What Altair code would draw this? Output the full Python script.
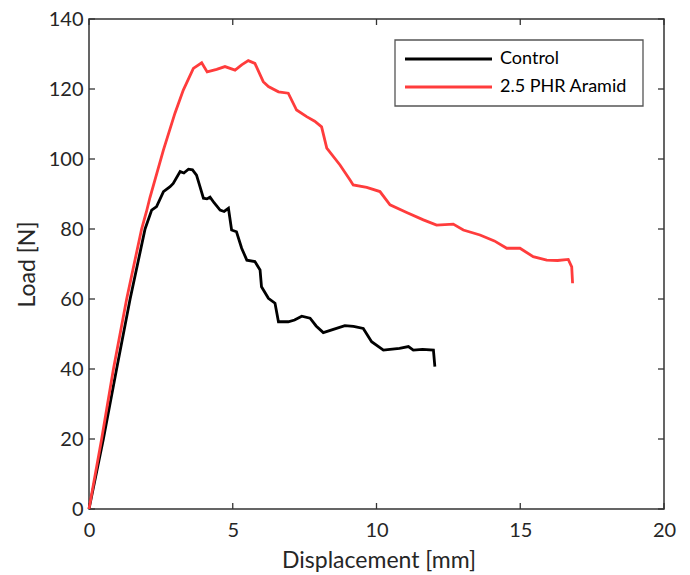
import altair as alt
import pandas as pd

# Control curve
ctrl_x = [0, 0.5, 0.96, 1.43, 1.95, 2.18, 2.35, 2.59, 2.82, 2.93, 3.17, 3.3, 3.46, 3.6, 3.74, 3.86,
          3.98, 4.1, 4.21, 4.35, 4.56, 4.7, 4.85, 4.96, 5.13, 5.31, 5.49, 5.77, 5.95, 6.0, 6.24,
          6.47, 6.59, 6.93, 7.15, 7.4, 7.69, 7.9, 8.15, 8.5, 8.9, 9.2, 9.54, 9.83, 10.24, 10.47,
          10.8, 11.11, 11.28, 11.6, 11.98, 12.03]
ctrl_y = [0, 20, 40, 60, 80, 85.4, 86.4, 90.7, 92.1, 93.0, 96.4, 96.0, 97.1, 96.9, 95.4, 92.1,
          88.8, 88.6, 89.1, 87.5, 85.4, 85.0, 85.9, 79.7, 79.2, 74.5, 71.1, 70.7, 68.3, 63.5, 60.2,
          58.8, 53.5, 53.5, 54.0, 55.1, 54.5, 52.3, 50.4, 51.3, 52.4, 52.2, 51.6, 47.8, 45.4, 45.6,
          45.9, 46.4, 45.4, 45.6, 45.4, 40.7]

# 2.5 PHR Aramid curve
ara_x = [0, 0.44, 0.85, 1.31, 1.83, 2.0, 2.12, 2.59, 2.99, 3.28, 3.63, 3.92, 4.11, 4.44, 4.73, 5.08, 5.31,
         5.54, 5.77, 6.06, 6.24, 6.59, 6.93, 7.22, 7.57, 7.85, 8.09, 8.27, 8.73, 9.08, 9.19, 9.66,
         10.12, 10.47, 11.05, 11.63, 12.09, 12.67, 13.02, 13.6, 14.1, 14.53, 14.99, 15.45, 15.92,
         16.3, 16.67, 16.79, 16.82]
ara_y = [0, 20, 40, 60, 80, 85, 89, 102.6, 113.1, 119.7, 125.9, 127.5, 124.9, 125.6, 126.4, 125.4,
         126.9, 128.1, 127.3, 122.1, 120.7, 119.2, 118.8, 114.0, 112.1, 110.8, 109.2, 103.1, 98.3, 94.0,
         92.6, 91.9, 90.7, 86.9, 84.7, 82.6, 81.1, 81.4, 79.7, 78.3, 76.6, 74.5, 74.5, 72.1, 71.1,
         71.0, 71.3, 69.2, 64.5]

series_names = ["Control", "2.5 PHR Aramid"]
series_colors = ["#000000", "#FF3C3C"]

x_ticks = [0, 5, 10, 15, 20]
y_ticks = [0, 20, 40, 60, 80, 100, 120, 140]

W, H = 575, 490
FONT = "Lato"
TXT = "#262626"

df_c = pd.DataFrame({"x": ctrl_x, "y": ctrl_y, "s": series_names[0], "o": range(len(ctrl_x))})
df_a = pd.DataFrame({"x": ara_x, "y": ara_y, "s": series_names[1], "o": range(len(ara_x))})

color = alt.Color("s:N", scale=alt.Scale(domain=series_names, range=series_colors), legend=None)

xs = alt.Scale(domain=[0, 20], nice=False, zero=False)
ys = alt.Scale(domain=[0, 140], nice=False, zero=False)

xaxis = alt.Axis(values=x_ticks, ticks=False, domain=False, grid=False, labelFontSize=20,
                 labelFont=FONT, labelColor=TXT, labelPadding=11, title="Displacement [mm]",
                 titleFontSize=23, titleFont=FONT, titleColor=TXT, titleFontWeight="normal",
                 titleX=W / 2 + 2, titleY=51, titleBaseline="middle", titleAlign="center",
                 labelFlush=False)
yaxis = alt.Axis(values=y_ticks, ticks=False, domain=False, grid=False, labelFontSize=20,
                 labelFont=FONT, labelColor=TXT, labelPadding=6, title="Load [N]",
                 titleFontSize=23, titleFont=FONT, titleColor=TXT, titleFontWeight="normal",
                 titleX=-62, titleY=H / 2, titleBaseline="middle", titleAlign="center",
                 labelFlush=False)

line_c = alt.Chart(df_c).mark_line(strokeWidth=2.8).encode(
    x=alt.X("x:Q", scale=xs, axis=xaxis), y=alt.Y("y:Q", scale=ys, axis=yaxis),
    color=color, order="o:Q")
line_a = alt.Chart(df_a).mark_line(strokeWidth=2.8).encode(
    x=alt.X("x:Q", scale=xs), y=alt.Y("y:Q", scale=ys), color=color, order="o:Q")

tx = pd.DataFrame({"t": x_ticks})
ty = pd.DataFrame({"t": y_ticks})
tick_style = dict(color="#333333", strokeWidth=1.3)
tb = alt.Chart(tx).mark_rule(**tick_style).encode(x=alt.X("t:Q", scale=xs), y=alt.value(H), y2=alt.value(H - 6))
tt = alt.Chart(tx).mark_rule(**tick_style).encode(x=alt.X("t:Q", scale=xs), y=alt.value(0), y2=alt.value(6))
tl = alt.Chart(ty).mark_rule(**tick_style).encode(y=alt.Y("t:Q", scale=ys), x=alt.value(0), x2=alt.value(6))
tr = alt.Chart(ty).mark_rule(**tick_style).encode(y=alt.Y("t:Q", scale=ys), x=alt.value(W), x2=alt.value(W - 6))

# Manual legend
leg_df = pd.DataFrame({"s": series_names})
box = alt.Chart(leg_df.head(1)).mark_rect(fill="white", stroke="#555555", strokeWidth=1.3).encode(
    x=alt.value(306), x2=alt.value(554), y=alt.value(21), y2=alt.value(87))
rows = []
for i, name in enumerate(series_names):
    yy = 40 + 28 * i
    d = leg_df[leg_df.s == name]
    rows.append(alt.Chart(d).mark_rule(strokeWidth=3).encode(
        x=alt.value(316), x2=alt.value(403), y=alt.value(yy), color=color))
    rows.append(alt.Chart(d).mark_text(align="left", baseline="middle", font=FONT, fontSize=18,
                                       color="#000000").encode(
        x=alt.value(411), y=alt.value(yy), text="s:N"))

chart = alt.layer(tb, tt, tl, tr, line_c, line_a, box, *rows).properties(
    width=W, height=H,
    padding={"left": 89, "top": 19, "right": 26, "bottom": 66},
    autosize=alt.AutoSizeParams(type="none"),
    background="white",
).configure_view(stroke="#333333", strokeWidth=1.5)

chart.save("out.html", embed_options={"renderer": "svg", "actions": False})
